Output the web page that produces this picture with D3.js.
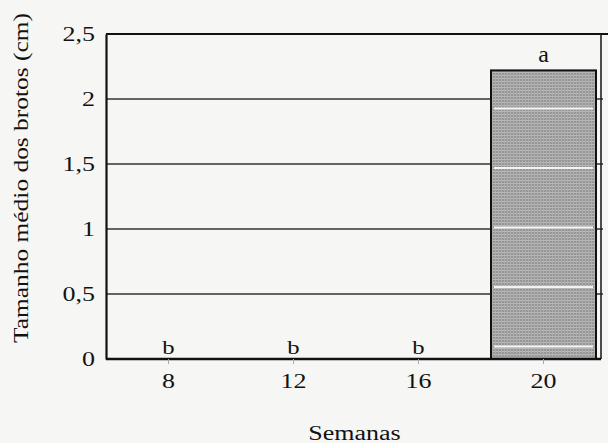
<!DOCTYPE html>
<html>
<head>
<meta charset="utf-8">
<script src="https://cdn.jsdelivr.net/npm/d3@7"></script>
<style>
  html, body { margin: 0; padding: 0; background: #f6f6f4; }
  svg { display: block; }
  text { font-family: "Liberation Serif", "Times New Roman", serif; fill: #121212; }
</style>
</head>
<body>
<svg id="chart" width="608" height="443"></svg>
<script>
// Tamanho médio dos brotos por semana
const weeks = ["8", "12", "16", "20"];
const meanSize = [0, 0, 0, 2.22];
const letters = ["b", "b", "b", "a"];
const yTicks = [0, 0.5, 1, 1.5, 2, 2.5];
const yTickLabels = ["0", "0,5", "1", "1,5", "2", "2,5"];

const svg = d3.select("#chart");
const margin = { left: 106, right: 5, top: 34, bottom: 84 };
const W = 608, H = 443;
const plotRight = W - margin.right;

// wide serif lettering: stretch each horizontal label sideways
function widen(sel, k = 1.3) {
  sel.each(function () {
    const len = this.getComputedTextLength();
    d3.select(this).attr("textLength", len * k).attr("lengthAdjust", "spacingAndGlyphs");
  });
}

const x = d3.scaleBand()
  .domain(weeks)
  .range([margin.left, plotRight + 3])
  .paddingInner(0.16)
  .paddingOuter(0.08);

const y = d3.scaleLinear()
  .domain([0, 2.5])
  .range([H - margin.bottom, margin.top]);

// textured grey fill for the bars
const defs = svg.append("defs");
const pat = defs.append("pattern")
  .attr("id", "grain")
  .attr("patternUnits", "userSpaceOnUse")
  .attr("width", 3).attr("height", 3);
pat.append("rect").attr("width", 3).attr("height", 3).attr("fill", "#969696");
pat.append("rect").attr("x", 0).attr("y", 0).attr("width", 3).attr("height", 1).attr("fill", "#bababa");
pat.append("rect").attr("x", 0).attr("y", 0).attr("width", 1).attr("height", 3).attr("fill", "#adadad");

const stripe = defs.append("pattern")
  .attr("id", "stripes")
  .attr("patternUnits", "userSpaceOnUse")
  .attr("y", 48)
  .attr("width", 10).attr("height", 59.5);
stripe.append("rect").attr("y", 0).attr("width", 10).attr("height", 2).attr("fill", "#f4f4f4");

// horizontal grid lines
svg.append("g")
  .selectAll("line")
  .data(yTicks.filter(t => t > 0 && t < 2.5))
  .join("line")
  .attr("x1", margin.left)
  .attr("x2", plotRight)
  .attr("y1", d => y(d))
  .attr("y2", d => y(d))
  .attr("stroke", "#333")
  .attr("stroke-width", 1.4);

// bars
const bars = svg.append("g");
weeks.forEach((w, i) => {
  if (meanSize[i] <= 0) return;
  const bx = x(w), bw = x.bandwidth();
  bars.append("rect")
    .attr("x", bx).attr("y", y(meanSize[i]))
    .attr("width", bw).attr("height", y(0) - y(meanSize[i]))
    .attr("fill", "url(#grain)")
    .attr("stroke", "#111")
    .attr("stroke-width", 2);
  bars.append("rect")
    .attr("x", bx + 3).attr("y", y(meanSize[i]) + 3)
    .attr("width", bw - 6).attr("height", y(0) - y(meanSize[i]) - 6)
    .attr("fill", "url(#stripes)");
});

// significance letters
svg.append("g")
  .selectAll("text")
  .data(weeks)
  .join("text")
  .attr("x", d => x(d) + x.bandwidth() / 2)
  .attr("y", (d, i) => y(meanSize[i]) - (meanSize[i] > 0 ? 8 : 5))
  .attr("text-anchor", "middle")
  .attr("font-size", (d, i) => meanSize[i] > 0 ? 24 : 19)
  .text((d, i) => letters[i])
  .filter((d, i) => meanSize[i] <= 0)
  .call(widen);

// frame: top and right border
svg.append("line")
  .attr("x1", margin.left).attr("x2", W)
  .attr("y1", y(2.5)).attr("y2", y(2.5))
  .attr("stroke", "#111").attr("stroke-width", 2);
svg.append("line")
  .attr("x1", plotRight - 2).attr("x2", plotRight - 2)
  .attr("y1", y(2.5)).attr("y2", y(0))
  .attr("stroke", "#222").attr("stroke-width", 1.6);

// y axis
const yAxis = svg.append("g")
  .attr("transform", `translate(${margin.left},0)`)
  .call(d3.axisLeft(y).tickValues(yTicks).tickSize(0).tickPadding(11)
    .tickFormat((d, i) => yTickLabels[i]));
yAxis.select(".domain").attr("stroke", "#111").attr("stroke-width", 2.2);
yAxis.selectAll("text")
  .attr("font-size", 20).attr("font-family", "Liberation Serif").attr("fill", "#121212")
  .call(widen);

// x axis
const xAxis = svg.append("g")
  .attr("transform", `translate(0,${y(0)})`)
  .call(d3.axisBottom(x).tickSize(5).tickPadding(10).tickSizeOuter(0));
xAxis.select(".domain")
  .attr("d", `M${margin.left},0H${plotRight - 2}`)
  .attr("stroke", "#111").attr("stroke-width", 2.4);
xAxis.selectAll(".tick line").attr("stroke", "#aaa").attr("stroke-width", 1);
xAxis.selectAll("text")
  .attr("font-size", 20).attr("font-family", "Liberation Serif").attr("fill", "#121212")
  .call(widen);

// axis titles
svg.append("text")
  .attr("x", (margin.left + plotRight) / 2)
  .attr("y", 440)
  .attr("text-anchor", "middle")
  .attr("font-size", 20)
  .text("Semanas")
  .call(widen);

svg.append("text")
  .attr("transform", "translate(28,178) rotate(-90)")
  .attr("text-anchor", "middle")
  .attr("font-size", 20)
  .attr("textLength", 330)
  .attr("lengthAdjust", "spacingAndGlyphs")
  .text("Tamanho médio dos brotos (cm)");
</script>
</body>
</html>
